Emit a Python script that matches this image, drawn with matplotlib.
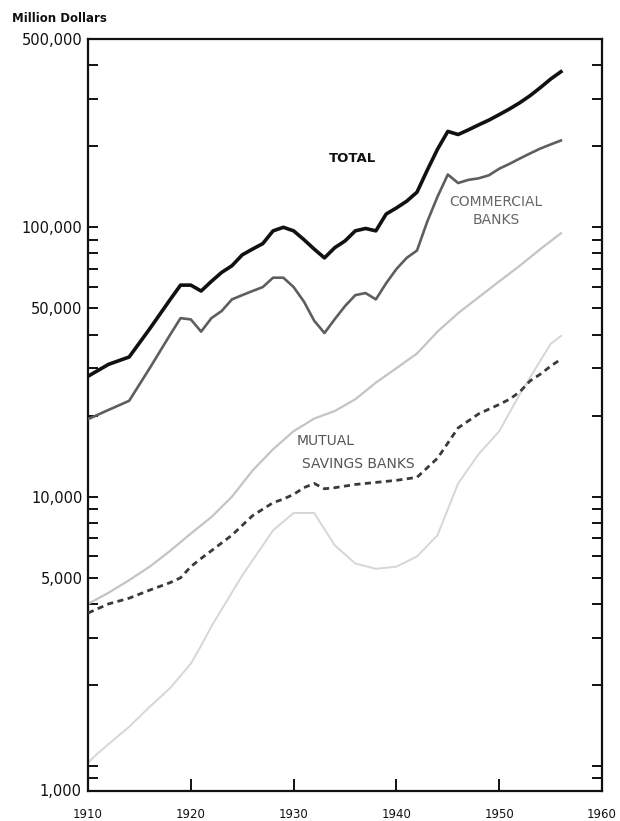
import matplotlib.pyplot as plt
import numpy as np
from matplotlib.ticker import FixedLocator, NullFormatter

# assets of financial institutions, million dollars (log scale)
total_years = [1910, 1912, 1914, 1916, 1918, 1919, 1920, 1921, 1922, 1923, 1924, 1925,
               1926, 1927, 1928, 1929, 1930, 1931, 1932, 1933, 1934, 1935, 1936, 1937,
               1938, 1939, 1940, 1941, 1942, 1943, 1944, 1945, 1946, 1947, 1948, 1949,
               1950, 1951, 1952, 1953, 1954, 1955, 1956]
total = [28000, 31000, 33000, 42000, 54000, 61000, 61000, 58000, 63000, 68000, 72000, 79000,
         83000, 87000, 97000, 100000, 97000, 90000, 83000, 77000, 84000, 89000, 97000, 99000,
         97000, 112000, 118000, 125000, 135000, 163000, 195000, 227000, 221000, 230000, 240000, 250000,
         262000, 275000, 290000, 308000, 330000, 355000, 378000]

commercial_years = total_years
commercial = [19400, 21000, 22700, 30000, 40000, 46000, 45500, 41000, 46000, 48900, 54000, 56000,
              58000, 60000, 65000, 65000, 60000, 53000, 45000, 40500, 45600, 51000, 56000, 57000,
              54000, 62000, 70000, 77000, 82000, 105000, 130000, 157000, 146000, 150000, 152000, 156000,
              165000, 172000, 180000, 188000, 196000, 203000, 210000]

life_years = [1910, 1912, 1914, 1916, 1918, 1920, 1922, 1924, 1926, 1928, 1930, 1932, 1934,
              1936, 1938, 1940, 1942, 1944, 1946, 1948, 1950, 1952, 1954, 1956]
life = [4000, 4400, 4900, 5500, 6300, 7300, 8400, 10000, 12500, 15000, 17500, 19500, 20800,
        23000, 26500, 30000, 34000, 41000, 48000, 55000, 63000, 72000, 83000, 95000]

mutual_years = [1910, 1912, 1914, 1916, 1918, 1919, 1920, 1921, 1922, 1924, 1926, 1928, 1929,
                1930, 1931, 1932, 1933, 1934, 1936, 1938, 1940, 1942, 1944, 1946, 1948, 1950,
                1951, 1952, 1953, 1954, 1955, 1956]
mutual = [3700, 4000, 4200, 4500, 4800, 5000, 5500, 5900, 6300, 7200, 8500, 9500, 9800,
          10200, 10800, 11200, 10700, 10800, 11100, 11300, 11500, 11800, 13900, 18000, 20300, 22000,
          23000, 24500, 26900, 28500, 30500, 32400]

sl_years = [1910, 1911, 1914, 1916, 1918, 1920, 1921, 1922, 1925, 1928, 1930, 1932, 1934,
            1936, 1938, 1940, 1942, 1944, 1946, 1948, 1950, 1952, 1954, 1955, 1956]
sl = [1030, 1120, 1400, 1660, 1950, 2400, 2800, 3300, 5100, 7500, 8700, 8700, 6600,
      5650, 5400, 5500, 6000, 7200, 11200, 14400, 17500, 24000, 32000, 36900, 39500]

fig = plt.figure(figsize=(6.2, 8.21), dpi=100)
ax = fig.add_axes([0.142, 0.0365, 0.829, 0.916])

ax.plot(sl_years, sl, color='#d6d6d6', lw=1.4, zorder=1)
ax.plot(life_years, life, color='#c4c4c4', lw=1.6, zorder=2)
ax.plot(mutual_years, mutual, color='#3a3a3a', lw=2.0, ls=(0, (2.2, 1.6)), zorder=3)
ax.plot(commercial_years, commercial, color='#5e5e5e', lw=1.9, zorder=4)
ax.plot(total_years, total, color='#111111', lw=2.6, zorder=5)

ax.set_yscale('log')
ax.set_xlim(1910, 1960)
ax.set_ylim(808, 500000)

for s in ax.spines.values():
    s.set_linewidth(1.6)
    s.set_color('#111111')

ax.xaxis.set_major_locator(FixedLocator([1910, 1920, 1930, 1940, 1950, 1960]))
ax.set_xticklabels(['1910', '1920', '1930', '1940', '1950', '1960'])
ax.tick_params(axis='x', direction='in', length=9, width=1.4, pad=12, labelsize=8.5,
               colors='#111111')

major_y = [5000, 10000, 50000, 100000, 500000]
ax.yaxis.set_major_locator(FixedLocator(major_y))
ax.set_yticklabels(['5,000', '10,000', '50,000', '100,000', '500,000'])
minor_y = [m * 10 ** e for e in range(2, 6) for m in range(1, 10)]
minor_y = [v for v in minor_y if v not in major_y and 808 <= v <= 500000]
ax.yaxis.set_minor_locator(FixedLocator(minor_y))
ax.yaxis.set_minor_formatter(NullFormatter())
ax.tick_params(axis='y', which='both', direction='in', length=7, width=1.4,
               left=True, right=True, labelsize=10.5, pad=4, colors='#111111')

# bottom label sits on the axis line
ax.text(-0.012, 0.0, '1,000', transform=ax.transAxes, ha='right', va='center',
        fontsize=10.5, color='#111111')
fig.text(0.02, 0.978, 'Million Dollars', fontsize=8.5, fontweight='bold', color='#111111',
         ha='left', va='center')

# series labels
ax.text(1935.7, 180000, 'TOTAL', fontsize=9.5, fontweight='bold', ha='center', va='center',
        color='#111111')
ax.text(1949.7, 115000, 'COMMERCIAL\nBANKS', fontsize=10, ha='center', va='center',
        color='#666666', linespacing=1.3)
ax.text(1933.1, 16100, 'MUTUAL', fontsize=10, ha='center', va='center', color='#555555')
ax.text(1936.3, 13200, 'SAVINGS BANKS', fontsize=10, ha='center', va='center', color='#555555')

plt.savefig('out.png', dpi=100)
